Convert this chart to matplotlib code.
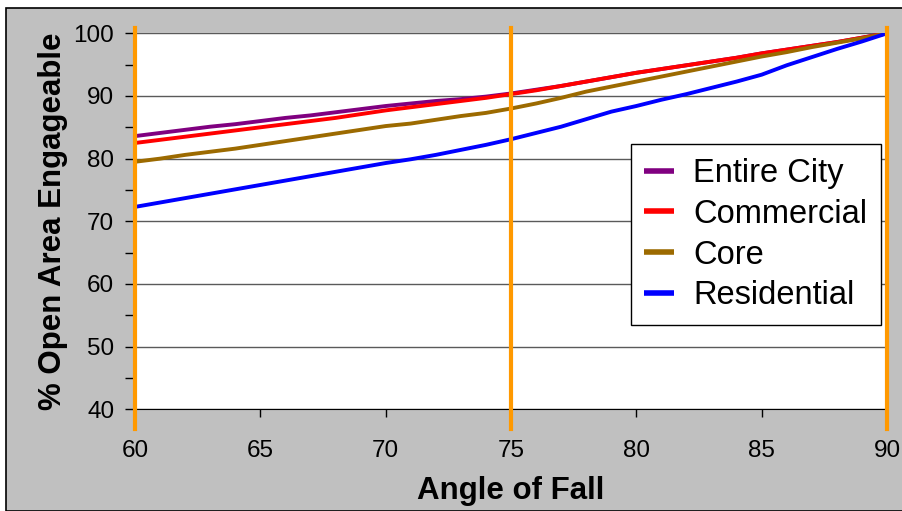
import matplotlib.pyplot as plt
from matplotlib.patches import Rectangle

plt.rcParams['font.family'] = ['Liberation Sans', 'DejaVu Sans']

# angle of fall, one reading per degree
angulos = list(range(60, 91))

entire_city = [83.6, 84.1, 84.6, 85.1, 85.5, 86.0, 86.5, 86.9, 87.4, 87.9,
               88.4, 88.8, 89.2, 89.5, 89.9, 90.4, 91.0, 91.6, 92.3, 93.0,
               93.7, 94.3, 94.9, 95.5, 96.1, 96.8, 97.4, 98.0, 98.6, 99.3, 100.0]
commercial = [82.5, 83.0, 83.5, 84.0, 84.5, 85.0, 85.5, 86.0, 86.5, 87.1,
              87.7, 88.2, 88.7, 89.2, 89.7, 90.3, 90.9, 91.6, 92.3, 93.0,
              93.7, 94.3, 94.9, 95.5, 96.1, 96.8, 97.4, 98.0, 98.6, 99.3, 100.0]
core = [79.5, 80.0, 80.6, 81.1, 81.6, 82.2, 82.8, 83.4, 84.0, 84.6,
        85.2, 85.6, 86.2, 86.8, 87.3, 88.0, 88.8, 89.7, 90.7, 91.5,
        92.3, 93.1, 93.9, 94.7, 95.5, 96.3, 97.0, 97.8, 98.5, 99.2, 100.0]
residential = [72.3, 73.0, 73.7, 74.4, 75.1, 75.8, 76.5, 77.2, 77.9, 78.6,
               79.3, 79.9, 80.6, 81.4, 82.2, 83.1, 84.1, 85.1, 86.3, 87.5,
               88.4, 89.4, 90.3, 91.3, 92.3, 93.4, 94.9, 96.2, 97.5, 98.7, 100.0]

series = ['Entire City', 'Commercial', 'Core', 'Residential']
cores = ['#800080', '#FF0000', '#9C6A00', '#0000FF']
marcas = [60, 75, 90]  # linhas verticais laranjas

fig = plt.figure(figsize=(9.03, 5.11), dpi=100, facecolor='white')
# fundo cinza estilo excel
fig.patches.append(Rectangle((6 / 903, 0), 1.0, 503 / 511, transform=fig.transFigure,
                             facecolor='#C0C0C0', edgecolor='black', linewidth=1.2, zorder=-10))

ax = fig.add_axes([0.1495, 0.199, 0.8328, 0.7358])
ax.set_facecolor('white')

for valores, nome, cor in zip([entire_city, commercial, core, residential], series, cores):
    ax.plot(angulos, valores, color=cor, linewidth=2.8, label=nome, zorder=3)

for m in marcas:
    ax.axvline(m, ymin=-0.052, ymax=1.014, color='#FF9900', linewidth=3, clip_on=False, zorder=4)

ax.set_xlim(60, 90)
ax.set_ylim(40, 100)
ax.set_xticks(range(60, 91, 5))
ax.set_yticks(range(40, 101, 10))
ax.set_yticks(range(45, 100, 10), minor=True)
ax.yaxis.grid(True, color='#5a5a5a', linewidth=1)
ax.set_axisbelow(True)

ax.spines['top'].set_visible(False)
ax.spines['right'].set_visible(False)
ax.spines['left'].set_visible(False)
ax.spines['bottom'].set_color('black')

ax.tick_params(axis='y', which='major', length=7, width=1, pad=8, labelsize=17.5)
ax.tick_params(axis='y', which='minor', length=7, width=1)
ax.tick_params(axis='x', length=6, width=1, pad=16, labelsize=17.5)

ax.set_xlabel('Angle of Fall', fontsize=22.5, fontweight='bold', labelpad=10)
ax.set_ylabel('% Open Area Engageable', fontsize=22.5, fontweight='bold', labelpad=4)

leg = ax.legend(loc='upper left', bbox_to_anchor=(0.659, 0.705), borderaxespad=0,
                fontsize=23.5, frameon=True, fancybox=False, framealpha=1,
                edgecolor='black', handlelength=0.9, handletextpad=0.6,
                labelspacing=0.3, borderpad=0.42)
leg.get_frame().set_linewidth(1)
for linha in leg.get_lines():
    linha.set_linewidth(4)
    linha.set_solid_capstyle('butt')

fig.savefig('out.png', dpi=100, facecolor=fig.get_facecolor())
